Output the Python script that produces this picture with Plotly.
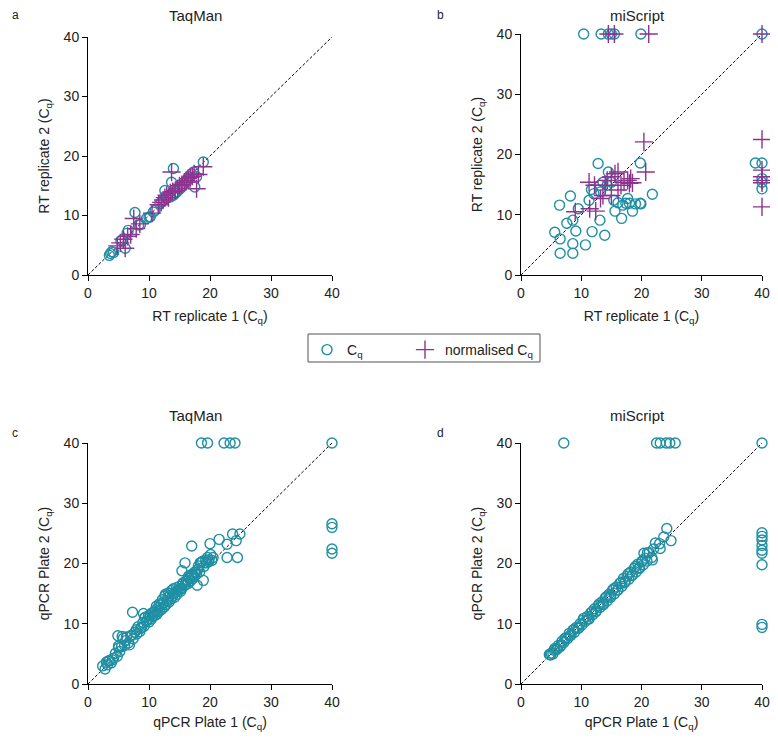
import plotly.graph_objects as go

# ---------------- data ----------------
# panel a: TaqMan, RT replicate 1 vs 2
a_cq_x = [3.5, 3.7, 3.9, 4.2, 5.4, 5.6, 6.1, 6.4, 6.6, 7.7, 8.3, 8.6, 9.6, 10.0, 10.2, 10.7, 11.0, 11.8, 12.1, 12.4,
          12.6, 12.9, 13.5, 13.7, 14.0, 14.0, 14.3, 14.6, 15.1, 15.5, 15.9, 16.2, 16.5, 17.0, 17.3, 17.5, 17.8, 18.9]
a_cq_y = [3.3, 3.6, 3.9, 3.8, 5.7, 5.9, 4.5, 7.0, 7.5, 10.5, 8.4, 8.5, 9.5, 9.7, 9.8, 10.6, 10.9, 12.0, 12.3, 12.6,
          14.2, 13.0, 13.1, 15.6, 13.4, 17.9, 13.8, 14.0, 14.5, 14.9, 15.4, 16.0, 16.5, 17.0, 17.3, 14.8, 16.5, 19.0]
a_norm_x = [4.8, 5.3, 5.8, 6.1, 6.5, 7.0, 7.5, 7.9, 8.5, 10.5, 11.6, 12.0, 12.3, 12.6, 12.9, 13.2, 13.5, 13.7, 13.9, 14.3,
            14.7, 15.0, 15.4, 15.8, 16.1, 16.4, 16.8, 17.1, 17.4, 17.8, 18.1, 18.9]
a_norm_y = [4.9, 5.4, 6.0, 4.5, 6.5, 6.8, 9.5, 7.8, 8.6, 10.4, 11.8, 12.2, 12.6, 13.0, 13.4, 13.0, 13.8, 17.3, 14.0, 14.2,
            14.5, 15.0, 15.2, 15.6, 15.9, 16.2, 16.4, 16.6, 17.0, 14.5, 16.9, 18.2]

# panel b: miScript, RT replicate 1 vs 2
b_cq_x = [10.4, 13.3, 14.5, 15.0, 15.5, 19.9, 40,
          5.6, 6.4, 6.5, 6.5, 7.6, 8.2, 8.6, 8.6, 8.6, 9.1,
          9.5, 10.7, 11.3, 11.8, 12.1, 12.8, 13.1, 13.2, 13.6, 13.9,
          14.3, 14.5, 15.0, 15.4, 15.6, 16.1, 16.7, 16.9, 17.4, 17.7,
          18.0, 18.5, 19.0, 19.8, 19.9, 19.8, 21.8, 11.7, 13.1,
          38.9, 40, 40, 40, 40]
b_cq_y = [40, 40, 40, 40, 40, 40, 40,
          7.1, 11.6, 6.0, 3.6, 8.6, 13.1, 9.1, 5.2, 3.6, 7.3,
          11.0, 5.0, 12.4, 7.2, 13.5, 18.5, 9.1, 13.8, 15.4, 6.6,
          14.9, 17.1, 15.4, 12.4, 10.6, 12.0, 9.4, 11.6, 11.9, 12.7,
          11.9, 10.6, 11.8, 11.9, 11.8, 18.6, 13.4, 14.2, 14.9,
          18.6, 18.6, 16.0, 15.4, 14.3]
b_norm_x = [14.5, 15.5, 21.2, 40, 40, 40, 40, 40, 40, 40,
            9.0, 11.3, 11.4, 12.2, 12.4, 13.2, 13.6, 14.0, 14.3, 15.0,
            15.0, 15.6, 16.1, 16.1, 16.6, 17.1, 17.7, 18.0, 18.2, 18.5,
            20.4, 20.7]
b_norm_y = [40, 40, 40, 40, 22.5, 17.4, 16.3, 15.7, 15.3, 11.3,
            10.5, 15.4, 11.0, 14.9, 10.6, 12.7, 13.2, 14.9, 15.7, 16.3,
            13.2, 16.8, 17.1, 14.1, 14.9, 15.4, 15.7, 15.2, 16.0, 15.3,
            22.1, 17.1]

# panel c: TaqMan, qPCR plate 1 vs 2
c_x = [18.6, 19.6, 22.3, 23.3, 24.1, 40, 40, 40, 40, 40,
       17.0, 7.3, 20.0, 21.5, 22.8, 24.5, 23.7, 24.9, 24.3, 22.8, 15.9, 15.4, 18.9, 17.9, 18.4, 19.3, 20.1, 20.5, 19.8,
       4.9, 9.1,
       2.4, 2.8, 3.0, 3.2, 3.5, 3.8, 4.0, 4.5, 4.8, 5.0, 5.2, 5.5, 5.8, 6.0, 6.3, 6.6, 6.8, 7.0, 7.4, 7.7,
       8.0, 8.2, 8.5, 8.8, 9.0, 9.2, 9.4, 9.6, 9.8, 10.0, 10.2, 10.4, 10.6, 10.8, 11.0, 11.1, 11.3, 11.5, 11.6, 11.8,
       12.0, 12.1, 12.3, 12.5, 12.6, 12.8, 13.0, 13.1, 13.3, 13.5, 13.6, 13.8, 14.0, 14.2, 14.4, 14.6, 14.8, 15.0,
       15.2, 15.4, 15.6, 15.8, 16.0, 16.2, 16.4, 16.6, 16.8, 17.0, 17.2, 17.4, 17.6, 17.8, 18.0, 18.3, 18.6, 19.0,
       19.4, 19.8, 20.3,
       3.3, 4.2, 5.0, 5.6, 6.2, 7.2, 7.9, 8.6, 9.3, 9.9, 10.5, 11.2, 11.7, 12.2, 12.7, 13.2, 13.7, 14.1, 14.5, 15.1,
       15.5, 16.1, 16.5, 17.1, 17.5, 18.1, 18.8, 19.6]
c_y = [40, 40, 40, 40, 40, 40, 26.6, 26.0, 22.4, 21.7,
       22.9, 11.9, 23.3, 24.0, 21.0, 21.0, 24.9, 24.9, 23.8, 23.2, 20.1, 18.8, 17.2, 16.4, 20.1, 20.6, 21.5, 21.0, 20.3,
       8.0, 11.7,
       3.0, 2.5, 3.6, 3.2, 3.9, 3.5, 4.0, 5.1, 4.6, 6.0, 5.4, 6.2, 7.6, 6.4, 7.8, 6.8, 6.5, 8.0, 7.5, 8.6,
       8.3, 9.5, 8.7, 9.4, 10.2, 9.6, 11.1, 10.4, 10.7, 10.3, 11.5, 10.8, 11.2, 11.9, 11.4, 12.3, 11.6, 12.0, 12.8, 12.2,
       13.1, 12.4, 13.5, 12.8, 14.6, 13.2, 13.8, 14.4, 13.6, 15.0, 14.1, 14.5, 15.8, 14.4, 15.3, 14.9, 15.6, 16.2,
       15.4, 15.9, 16.8, 16.3, 16.5, 17.2, 16.7, 17.6, 17.1, 18.2, 17.5, 17.9, 18.5, 18.2, 19.0, 18.6, 20.2, 19.5,
       20.1, 20.6, 20.5,
       3.8, 4.3, 6.3, 7.9, 7.2, 8.1, 9.0, 9.2, 11.0, 11.3, 11.8, 12.9, 13.3, 14.0, 14.9, 15.1, 15.5, 15.0, 16.0, 15.7,
       16.6, 17.0, 17.9, 18.0, 18.6, 19.6, 20.4, 21.0]

# panel d: miScript, qPCR plate 1 vs 2
d_x = [7.1, 22.5, 23.1, 24.1, 24.7, 25.6, 40,
       40, 40, 40, 40, 40, 40, 40, 40, 40,
       24.2, 23.7, 24.9, 23.0, 22.3, 20.4, 21.8, 23.1, 21.0,
       4.7, 5.0, 5.3, 5.6, 5.9, 6.2, 6.5, 6.8, 7.1, 7.4, 7.7, 8.0, 8.3, 8.6, 8.9, 9.2, 9.5, 9.8, 10.1, 10.4,
       10.7, 11.0, 11.3, 11.6, 11.9, 12.2, 12.5, 12.8, 13.1, 13.4, 13.7, 14.0, 14.3, 14.6, 14.9, 15.2, 15.5, 15.8,
       16.1, 16.4, 16.7, 17.0, 17.3, 17.6, 17.9, 18.2, 18.5, 18.8, 19.1, 19.4, 19.7, 20.0, 20.3, 20.6, 20.9, 21.3,
       21.7, 22.0,
       4.9, 5.5, 6.0, 6.7, 7.3, 8.1, 8.8, 9.6, 10.3, 11.1, 11.8, 12.4, 13.0, 13.6, 14.2, 14.8, 15.4, 16.0, 16.6, 17.2,
       17.8, 18.4, 19.0, 19.6, 20.2]
d_y = [40, 40, 40, 40, 40, 40, 40,
       25.1, 24.5, 23.9, 23.0, 22.2, 21.7, 19.8, 9.9, 9.4,
       25.8, 24.4, 23.8, 23.3, 23.4, 21.7, 20.6, 22.5, 21.8,
       4.9, 5.1, 5.0, 5.9, 5.7, 6.4, 6.2, 7.1, 6.9, 7.6, 7.5, 8.4, 8.1, 8.9, 8.6, 9.4, 9.3, 10.0, 9.8, 10.9,
       10.4, 11.2, 10.8, 11.8, 11.5, 12.5, 12.1, 13.0, 12.7, 13.6, 13.2, 14.3, 13.8, 14.9, 14.4, 15.6, 15.0, 16.1,
       15.6, 16.7, 16.2, 17.5, 17.0, 17.9, 17.4, 18.6, 18.1, 19.2, 18.6, 19.9, 19.2, 20.3, 19.8, 20.9, 20.4, 21.8,
       21.0, 22.4,
       4.8, 5.6, 5.9, 6.5, 7.6, 8.0, 9.1, 9.3, 10.6, 10.8, 12.0, 12.0, 13.3, 13.3, 14.5, 14.6, 15.8, 15.6, 16.9, 16.8,
       18.3, 18.0, 19.5, 19.3, 20.5]

identity = [0, 40]
ticks = [0, 10, 20, 30, 40]

TEAL = '#1f8fa3'
PURPLE = '#8e3290'
TEXT = '#222222'
FONT = 'Liberation Sans, Arial, sans-serif'

# the page body has an 8px margin on every side, so the figure is drawn
# from (8, 8) and only 762 x 724 px of it can be seen
OFF = 8
W, H = 778 - 2 * OFF, 740 - 2 * OFF


def px_x(p):
    return (p - OFF) / W


def px_y(p):
    return 1 - (p - OFF) / H


fig = go.Figure()

panels = [
    # axis suffix, x domain px, y domain px (top, bottom), cq, norm
    ('', (88, 332), (37, 275), (a_cq_x, a_cq_y), (a_norm_x, a_norm_y)),
    ('2', (521, 762), (34, 275), (b_cq_x, b_cq_y), (b_norm_x, b_norm_y)),
    ('3', (88, 332), (443, 684), (c_x, c_y), None),
    ('4', (521, 762), (443, 684), (d_x, d_y), None),
]

for i, (s, xd, yd, cq, norm) in enumerate(panels):
    xa, ya = 'x' + s, 'y' + s
    fig.add_trace(go.Scatter(x=identity, y=identity, mode='lines', xaxis=xa, yaxis=ya,
                             line=dict(color='black', width=1, dash='3px,2px'),
                             showlegend=False, hoverinfo='skip'))
    fig.add_trace(go.Scatter(x=cq[0], y=cq[1], mode='markers', xaxis=xa, yaxis=ya,
                             name='C<sub>q</sub>', legend='legend', showlegend=(i == 0),
                             cliponaxis=False,
                             marker=dict(symbol='circle-open', size=10, color=TEAL,
                                         line=dict(width=1.4, color=TEAL))))
    if norm is not None:
        fig.add_trace(go.Scatter(x=norm[0], y=norm[1], mode='markers', xaxis=xa, yaxis=ya,
                                 name='normalised C<sub>q</sub>', legend='legend2', showlegend=(i == 0),
                                 cliponaxis=False,
                                 marker=dict(symbol='cross-thin-open', size=13, color=PURPLE,
                                             line=dict(width=1.4, color=PURPLE))))

axis_style = dict(range=[0, 40], tickvals=ticks, showgrid=False, zeroline=False,
                  showline=True, linecolor='black', linewidth=1, automargin=False,
                  ticks='outside', ticklen=5, tickwidth=1, tickcolor='black',
                  tickfont=dict(size=14, color=TEXT))

xtitles = ['RT replicate 1 (C<sub>q</sub>)', 'RT replicate 1 (C<sub>q</sub>)',
           'qPCR Plate 1 (C<sub>q</sub>)', 'qPCR Plate 1 (C<sub>q</sub>)']
ytitles = ['RT replicate 2 (C<sub>q</sub>)', 'RT replicate 2 (C<sub>q</sub>)',
           'qPCR Plate 2 (C<sub>q</sub>)', 'qPCR Plate 2 (C<sub>q</sub>)']

layout = {}
for i, (s, xd, yd, cq, norm) in enumerate(panels):
    layout['xaxis' + s] = dict(axis_style, domain=[px_x(xd[0]), px_x(xd[1])],
                               anchor='y' + s,
                               title=dict(text=xtitles[i], font=dict(size=14, color=TEXT), standoff=11))
    layout['yaxis' + s] = dict(axis_style, domain=[px_y(yd[1]), px_y(yd[0])],
                               anchor='x' + s,
                               title=dict(text=ytitles[i], font=dict(size=14, color=TEXT), standoff=10))
fig.update_layout(**layout)

# panel titles and letters
titles = [('TaqMan', 195, 15), ('miScript', 637, 15), ('TaqMan', 195, 415), ('miScript', 637, 415)]
for t, x, y in titles:
    fig.add_annotation(text=t, x=px_x(x), y=px_y(y), xref='paper', yref='paper',
                       xanchor='center', yanchor='middle',
                       showarrow=False, font=dict(size=15, color=TEXT))
letters = [('a', 10, 15), ('b', 435, 15), ('c', 10, 433), ('d', 435, 433)]
for t, x, y in letters:
    fig.add_annotation(text=t, x=px_x(x), y=px_y(y), xref='paper', yref='paper',
                       xanchor='left', yanchor='middle',
                       showarrow=False, font=dict(size=12, color=TEXT))

# legend frame
fig.add_shape(type='rect', xref='paper', yref='paper',
              x0=px_x(308), x1=px_x(540), y0=px_y(362), y1=px_y(334),
              line=dict(color='#555', width=1), fillcolor='rgba(0,0,0,0)')

legend_style = dict(orientation='h', yanchor='top', xanchor='left', y=px_y(334),
                    bgcolor='rgba(0,0,0,0)', borderwidth=0,
                    font=dict(size=14, color=TEXT), itemsizing='trace')

fig.update_layout(
    width=W, height=H,
    margin=dict(l=0, r=0, t=0, b=0),
    plot_bgcolor='white', paper_bgcolor='white',
    font=dict(family=FONT, color=TEXT),
    legend=dict(legend_style, x=px_x(307)),
    legend2=dict(legend_style, x=px_x(405)),
)

fig.write_html("out.html")
